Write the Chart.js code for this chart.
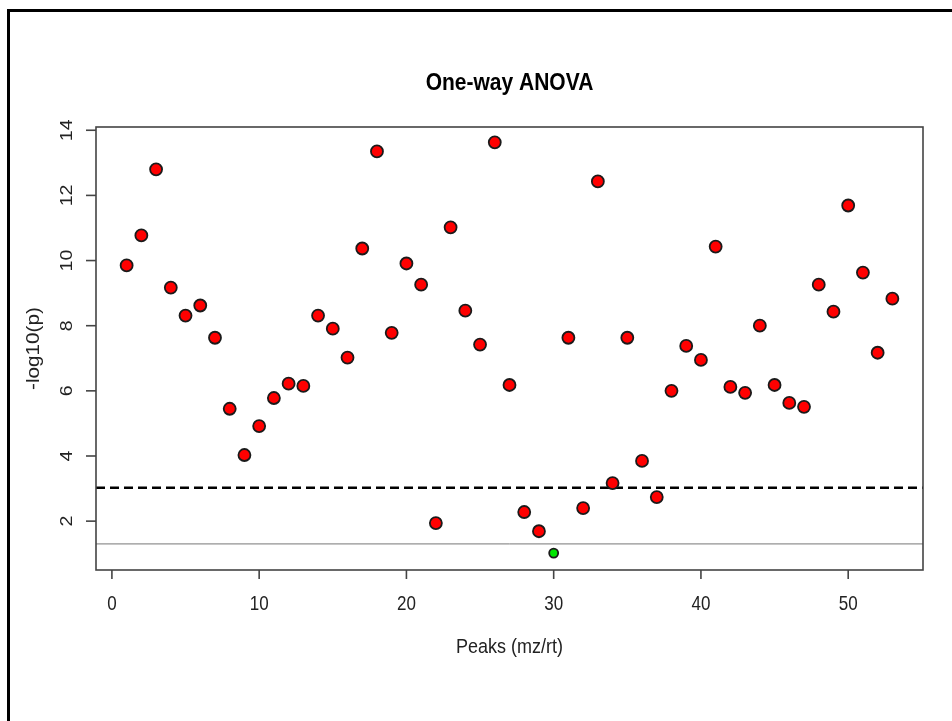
<!DOCTYPE html>
<html>
<head>
<meta charset="utf-8">
<script src="https://cdn.jsdelivr.net/npm/chart.js@4.4.0/dist/chart.umd.min.js"></script>
<style>
  body { margin: 0; background: #fff; }
  #wrap { position: relative; width: 952px; height: 721px; overflow: hidden; }
  #frame { position: absolute; left: 7px; top: 9px; width: 960px; height: 730px;
           border-left: 3px solid #000; border-top: 3px solid #000; }
</style>
</head>
<body>
<div id="wrap">
  <canvas id="chart" width="952" height="721"></canvas>
  <div id="frame"></div>
</div>
<script>
// data
const peaks = [1,2,3,4,5,6,7,8,9,10,11,12,13,14,15,16,17,18,19,20,21,22,23,24,25,26,27,
               28,29,30,31,32,33,34,35,36,37,38,39,40,41,42,43,44,45,46,47,48,49,50,51,52,53];
const logp = [9.85,10.77,12.80,9.17,8.31,8.62,7.63,5.45,4.03,4.92,5.78,6.22,6.15,8.31,7.91,7.02,
              10.37,13.35,7.78,9.91,9.26,1.94,11.02,8.46,7.42,13.63,6.18,2.28,1.69,1.02,7.63,2.40,
              12.43,3.17,7.63,3.85,2.74,6.00,7.38,6.95,10.43,6.12,5.94,8.00,6.18,5.63,5.51,9.26,
              8.43,11.69,9.63,7.17,8.83];
const xTicks = [0,10,20,30,40,50];
const yTicks = [2,4,6,8,10,12,14];
const xLimits = [-1.08, 55.08];
const yLimits = [0.5, 14.1];
const cutRaw = 1.301;     // -log10(0.05)
const cutAdj = 3.025;     // -log10(0.05/53)

const points = peaks.map((p, i) => ({x: p, y: logp[i]}));

// text in the reference is a bit taller than wide
function drawText(ctx, txt, x, y, rotated) {
  ctx.save();
  ctx.translate(x, y);
  ctx.scale(1, 1.15);
  if (rotated) ctx.rotate(-Math.PI / 2);
  ctx.fillText(txt, 0, 0);
  ctx.restore();
}

// R style box, ticks and texts
const rAxes = {
  id: "rAxes",
  afterDraw(chart) {
    const ctx = chart.ctx;
    const a = chart.chartArea;
    const xs = chart.scales.x, ys = chart.scales.y;
    ctx.save();
    ctx.strokeStyle = "#444";
    ctx.lineWidth = 1.6;
    ctx.strokeRect(a.left, a.top, a.right - a.left, a.bottom - a.top);

    ctx.fillStyle = "#222";
    ctx.font = "17px 'Liberation Sans', Arial, sans-serif";
    ctx.textAlign = "center";
    ctx.textBaseline = "middle";
    xTicks.forEach(v => {
      let px = xs.getPixelForValue(v);
      ctx.beginPath();
      ctx.moveTo(px, a.bottom);
      ctx.lineTo(px, a.bottom + 9);
      ctx.stroke();
      drawText(ctx, String(v), px, 605, false);
    });
    yTicks.forEach(v => {
      let py = ys.getPixelForValue(v);
      ctx.beginPath();
      ctx.moveTo(a.left, py);
      ctx.lineTo(a.left - 10, py);
      ctx.stroke();
      drawText(ctx, String(v), 67, py, true);
    });

    ctx.font = "18px 'Liberation Sans', Arial, sans-serif";
    drawText(ctx, "Peaks (mz/rt)", (a.left + a.right) / 2, 647, false);
    drawText(ctx, "-log10(p)", 34, (a.top + a.bottom) / 2, true);

    ctx.font = "bold 21px 'Liberation Sans', Arial, sans-serif";
    ctx.fillStyle = "#000";
    drawText(ctx, "One-way ANOVA", (a.left + a.right) / 2, 83, false);
    ctx.restore();
  }
};

function print_anova_chart() {
  return new Chart(document.querySelector("#chart"), {
    type: "scatter",
    data: {
      datasets: [{
        data: points,
        order: 0,
        pointRadius: ctx => (ctx.raw && ctx.raw.y < cutRaw) ? 4.5 : 6,
        pointBackgroundColor: ctx => (ctx.raw && ctx.raw.y < cutRaw) ? "#00e600" : "#ff0000",
        pointBorderColor: "#1a1a1a",
        pointBorderWidth: 1.8,
        pointHoverRadius: 6
      }, {
        type: "line",
        data: [{x: xLimits[0], y: cutAdj}, {x: xLimits[1], y: cutAdj}],
        order: 1,
        borderColor: "#000",
        borderWidth: 2.6,
        borderDash: [9, 5],
        pointRadius: 0
      }, {
        type: "line",
        data: [{x: xLimits[0], y: cutRaw}, {x: xLimits[1], y: cutRaw}],
        order: 2,
        borderColor: "#777",
        borderWidth: 1,
        pointRadius: 0
      }]
    },
    options: {
      responsive: false,
      animation: false,
      events: [],
      layout: { padding: { left: 96, right: 29, top: 127, bottom: 151 } },
      plugins: { legend: { display: false }, tooltip: { enabled: false }, title: { display: false } },
      scales: {
        x: { type: "linear", min: xLimits[0], max: xLimits[1], display: false },
        y: { type: "linear", min: yLimits[0], max: yLimits[1], display: false }
      }
    },
    plugins: [rAxes]
  });
}

print_anova_chart();
</script>
</body>
</html>
